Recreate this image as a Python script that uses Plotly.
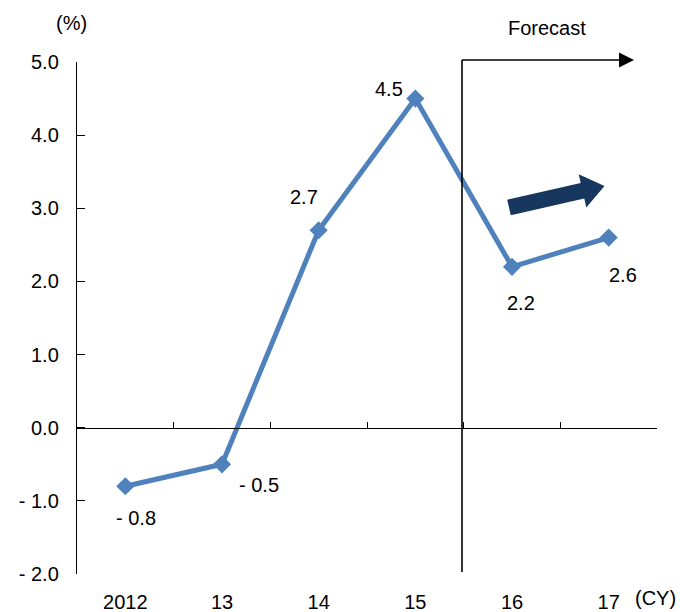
import plotly.graph_objects as go

# Calendar years and growth rates (%)
years = ["2012", "13", "14", "15", "16", "17"]
growth = [-0.8, -0.5, 2.7, 4.5, 2.2, 2.6]

# Label offsets (px) for each data label
label_dx = [11, 37, -15, -26, 9, 14]
label_dy = [-32, -21, 33, 10, -36, -37]

y_ticks = [-2, -1, 0, 1, 2, 3, 4, 5]
y_ticktext = ["- 2.0", "- 1.0", "0.0", "1.0", "2.0", "3.0", "4.0", "5.0"]

FONT = "Arial, Liberation Sans, sans-serif"
FS = 20
BLUE = "#4F81BD"
NAVY = "#17375E"

W, H = 680, 612
ML, MR, MT, MB = 77, 23, 62, 38
PW, PH = W - ML - MR, H - MT - MB


def px(xp, yp):
    """Pixel position -> paper coordinates."""
    return (xp - ML) / PW, (H - MB - yp) / PH


fig = go.Figure()

fig.add_trace(go.Scatter(
    x=years, y=growth, mode="lines+markers",
    line=dict(color=BLUE, width=5),
    marker=dict(symbol="diamond", size=14, color=BLUE),
    hoverinfo="skip", showlegend=False,
))

# invisible helper trace so the zero-line axis is drawn
fig.add_trace(go.Scatter(
    x=[-0.5], y=[0], xaxis="x2", yaxis="y", mode="markers",
    marker=dict(opacity=0), hoverinfo="skip", showlegend=False,
))

# data labels
for i, (v, dx, dy) in enumerate(zip(growth, label_dx, label_dy)):
    txt = f"- {abs(v):.1f}" if v < 0 else f"{v:.1f}"
    fig.add_annotation(x=i, y=v, xref="x", yref="y", text=txt,
                       showarrow=False, xshift=dx, yshift=dy,
                       xanchor="center", yanchor="middle",
                       font=dict(family=FONT, size=FS, color="black"))

shapes = []
# forecast divider and arrow
x0, y0 = px(462, 60)
_, yb = px(462, 572)
shapes.append(dict(type="line", xref="paper", yref="paper",
                   x0=x0, y0=y0, x1=x0, y1=yb,
                   line=dict(color="black", width=1.6)))
xe, _ = px(621, 60)
shapes.append(dict(type="line", xref="paper", yref="paper",
                   x0=x0, y0=y0, x1=xe, y1=y0,
                   line=dict(color="black", width=1.4)))
tri = [px(634, 60), px(619, 52.5), px(619, 67.5)]
shapes.append(dict(type="path", xref="paper", yref="paper",
                   path="M {} {} L {} {} L {} {} Z".format(
                       tri[0][0], tri[0][1], tri[1][0], tri[1][1],
                       tri[2][0], tri[2][1]),
                   fillcolor="black", line=dict(width=0)))

# upward trend block arrow
arrow_px = [(507.2, 199.7), (580.7, 183.0), (578.7, 174.2), (604.5, 186.0),
            (586.3, 207.4), (584.3, 198.6), (510.8, 215.3)]
pts = [px(a, b) for a, b in arrow_px]
path = "M " + " L ".join(f"{a} {b}" for a, b in pts) + " Z"
shapes.append(dict(type="path", xref="paper", yref="paper", path=path,
                   fillcolor=NAVY, line=dict(width=0)))

for text, (xp, yp) in [("Forecast", (547, 28)), ("(%)", (71, 23)),
                       ("(CY)", (655, 598))]:
    ax_, ay_ = px(xp, yp)
    fig.add_annotation(x=ax_, y=ay_, xref="paper", yref="paper", text=text,
                       showarrow=False, xanchor="center", yanchor="middle",
                       font=dict(family=FONT, size=FS, color="black"))

fig.update_layout(
    width=W, height=H,
    margin=dict(l=ML, r=MR, t=MT, b=MB, autoexpand=False),
    paper_bgcolor="white", plot_bgcolor="white",
    font=dict(family=FONT, size=FS, color="black"),
    shapes=shapes,
    xaxis=dict(type="category", range=[-0.5, 5.5], showline=False,
               ticks="", showgrid=False, zeroline=False, automargin=False,
               tickfont=dict(size=FS), ticklabelstandoff=14),
    xaxis2=dict(overlaying="x", anchor="free", position=2 / 7,
                range=[-0.5, 5.5], tickmode="array",
                tickvals=[-0.5, 0.5, 1.5, 2.5, 3.5, 4.5, 5.5],
                ticks="inside", ticklen=6, tickcolor="black",
                showline=True, linecolor="black", linewidth=1.4,
                showticklabels=False, showgrid=False, zeroline=False,
                automargin=False),
    yaxis=dict(range=[-2, 5], tickmode="array", tickvals=y_ticks,
               ticktext=y_ticktext, showline=True, linecolor="black",
               linewidth=1.4, ticks="inside", ticklen=8, tickcolor="black",
               showgrid=False, zeroline=False, tickfont=dict(size=FS),
               ticklabelstandoff=13, automargin=False),
)

fig.write_html("out.html")
